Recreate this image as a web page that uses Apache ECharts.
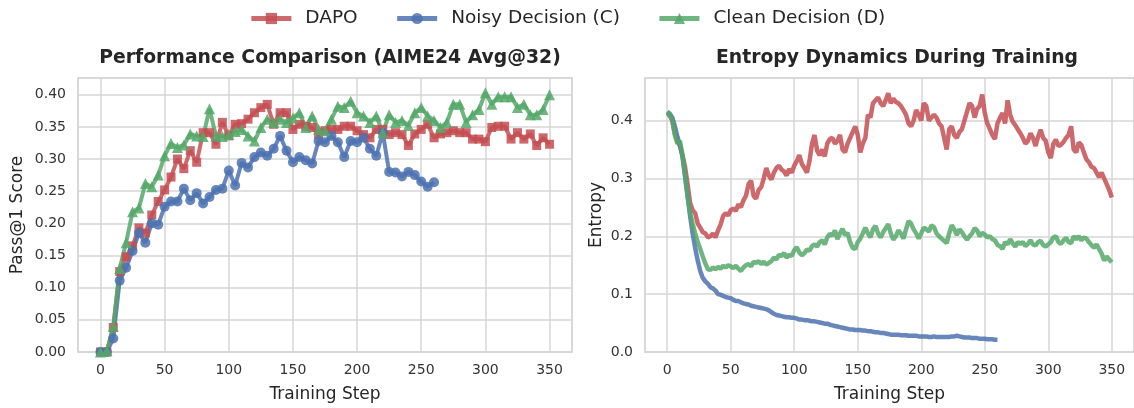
<!DOCTYPE html>
<html lang="en">
<head>
    <meta charset="UTF-8">
    <title>DAPO vs Decision</title>
    <style>
        html, body { margin: 0; padding: 0; background: #fff; }
        #main { width: 1134px; height: 408px; }
    </style>
    <script type="text/javascript" src="https://cdn.jsdelivr.net/npm/echarts@6/dist/echarts.min.js"></script>
</head>
<body>
<div id="main"></div>
</body>
<script>
    // ---- left panel: Avg@32 every 5 steps ----
    const perfSteps = [0,5,10,15,20,25,30,35,40,45,50,55,60,65,70,75,80,85,90,95,100,105,110,115,120,125,130,135,140,145,150,155,160,165,170,175,180,185,190,195,200,205,210,215,220,225,230,235,240,245,250,255,260,265,270,275,280,285,290,295,300,305,310,315,320,325,330,335,340,345,350];

    const perfDapo = [0,0,0.038,0.125,0.148,0.165,0.193,0.185,0.213,0.234,0.252,0.272,0.300,0.285,0.313,0.295,0.341,0.341,0.323,0.357,0.336,0.354,0.355,0.362,0.372,0.380,0.385,0.354,0.372,0.372,0.346,0.354,0.351,0.349,0.338,0.344,0.346,0.346,0.351,0.351,0.344,0.338,0.333,0.346,0.346,0.338,0.341,0.338,0.321,0.339,0.346,0.354,0.333,0.339,0.341,0.344,0.341,0.341,0.331,0.331,0.327,0.349,0.351,0.351,0.331,0.341,0.331,0.339,0.321,0.333,0.323];

    const perfNoisy = [0,0,0.021,0.111,0.131,0.157,0.185,0.170,0.200,0.198,0.226,0.234,0.234,0.254,0.236,0.247,0.231,0.241,0.252,0.254,0.282,0.259,0.294,0.287,0.303,0.310,0.305,0.316,0.336,0.313,0.295,0.303,0.298,0.293,0.328,0.326,0.336,0.326,0.303,0.328,0.326,0.333,0.316,0.305,0.341,0.280,0.279,0.273,0.280,0.275,0.265,0.257,0.264];

    const perfClean = [0,0.002,0.040,0.130,0.170,0.218,0.224,0.262,0.257,0.275,0.305,0.324,0.318,0.322,0.339,0.336,0.335,0.378,0.336,0.335,0.338,0.343,0.346,0.336,0.328,0.349,0.362,0.357,0.362,0.357,0.364,0.372,0.349,0.367,0.346,0.344,0.362,0.382,0.380,0.390,0.372,0.367,0.357,0.367,0.341,0.369,0.357,0.360,0.352,0.372,0.380,0.367,0.360,0.349,0.357,0.385,0.385,0.357,0.369,0.377,0.403,0.385,0.397,0.397,0.397,0.380,0.385,0.369,0.369,0.377,0.400];

    // ---- right panel: entropy every 2 steps ----
    const entSteps = Array.from({length: 176}, (_, i) => i * 2);

    const entDapo = [0.407,0.410,0.400,0.378,0.365,0.356,0.340,0.320,0.290,0.258,0.245,0.240,0.222,0.215,0.207,0.205,0.198,0.200,0.205,0.198,
        0.210,0.220,0.235,0.240,0.236,0.245,0.248,0.244,0.255,0.250,0.262,0.270,0.290,0.296,0.270,0.265,0.280,0.285,0.300,0.318,
        0.305,0.298,0.310,0.318,0.322,0.315,0.312,0.305,0.316,0.310,0.322,0.330,0.340,0.325,0.318,0.310,0.330,0.360,0.375,0.348,
        0.340,0.350,0.338,0.360,0.368,0.370,0.360,0.365,0.375,0.350,0.345,0.360,0.370,0.380,0.390,0.375,0.345,0.360,0.370,0.410,
        0.405,0.430,0.435,0.440,0.430,0.425,0.435,0.447,0.430,0.438,0.432,0.430,0.425,0.418,0.410,0.395,0.390,0.400,0.418,0.410,
        0.400,0.430,0.425,0.400,0.405,0.410,0.405,0.395,0.390,0.370,0.350,0.385,0.390,0.375,0.370,0.380,0.385,0.400,0.415,0.430,
        0.425,0.405,0.420,0.425,0.445,0.413,0.395,0.385,0.375,0.368,0.395,0.405,0.413,0.395,0.435,0.410,0.398,0.392,0.385,0.378,
        0.370,0.360,0.365,0.378,0.370,0.356,0.372,0.384,0.370,0.365,0.345,0.335,0.360,0.367,0.356,0.358,0.363,0.370,0.375,0.390,
        0.350,0.345,0.362,0.358,0.345,0.333,0.328,0.320,0.318,0.310,0.302,0.310,0.300,0.290,0.280,0.267];

    const entNoisy = [0.415,0.412,0.405,0.390,0.372,0.358,0.338,0.305,0.270,0.235,0.205,0.180,0.158,0.140,0.128,0.122,0.118,0.112,0.110,0.106,
        0.100,0.099,0.097,0.095,0.094,0.093,0.090,0.088,0.088,0.086,0.084,0.083,0.082,0.080,0.079,0.078,0.077,0.076,0.075,0.074,
        0.072,0.069,0.066,0.064,0.063,0.062,0.061,0.060,0.060,0.059,0.059,0.058,0.056,0.056,0.055,0.055,0.054,0.053,0.053,0.052,
        0.051,0.050,0.049,0.049,0.047,0.046,0.045,0.044,0.043,0.042,0.041,0.040,0.039,0.039,0.038,0.038,0.038,0.037,0.037,0.036,
        0.036,0.035,0.034,0.034,0.033,0.033,0.032,0.031,0.030,0.030,0.030,0.030,0.029,0.029,0.029,0.028,0.028,0.028,0.028,0.027,
        0.027,0.027,0.027,0.026,0.026,0.027,0.026,0.026,0.026,0.026,0.026,0.026,0.027,0.027,0.028,0.027,0.026,0.025,0.025,0.025,
        0.024,0.024,0.024,0.023,0.023,0.023,0.022,0.022,0.022,0.021,0.021];

    const entClean = [0.415,0.410,0.400,0.375,0.360,0.365,0.340,0.305,0.270,0.240,0.222,0.205,0.190,0.178,0.165,0.153,0.143,0.142,0.146,0.143,
        0.147,0.144,0.149,0.146,0.150,0.148,0.145,0.149,0.144,0.140,0.146,0.150,0.152,0.148,0.156,0.154,0.157,0.152,0.156,0.151,
        0.154,0.157,0.163,0.160,0.168,0.166,0.171,0.163,0.168,0.166,0.176,0.181,0.172,0.167,0.171,0.177,0.175,0.183,0.186,0.182,
        0.190,0.193,0.186,0.198,0.204,0.201,0.210,0.195,0.205,0.213,0.202,0.206,0.190,0.180,0.178,0.190,0.196,0.205,0.215,0.205,
        0.198,0.212,0.218,0.205,0.198,0.207,0.214,0.221,0.205,0.194,0.200,0.210,0.205,0.196,0.212,0.226,0.222,0.212,0.205,0.196,
        0.205,0.215,0.212,0.208,0.219,0.216,0.205,0.200,0.196,0.192,0.188,0.205,0.219,0.212,0.202,0.212,0.207,0.200,0.194,0.200,
        0.205,0.214,0.210,0.200,0.206,0.203,0.198,0.200,0.195,0.193,0.185,0.183,0.178,0.190,0.186,0.195,0.188,0.182,0.190,0.187,
        0.190,0.183,0.187,0.193,0.186,0.184,0.190,0.192,0.185,0.182,0.186,0.190,0.198,0.200,0.190,0.187,0.193,0.197,0.190,0.188,
        0.200,0.195,0.200,0.193,0.198,0.196,0.190,0.185,0.180,0.186,0.178,0.170,0.158,0.165,0.160,0.155];

    const xTicks = [0,50,100,150,200,250,300,350];
    const perfTicks = [0,0.05,0.10,0.15,0.20,0.25,0.30,0.35,0.40];
    const entTicks = [0,0.1,0.2,0.3,0.4];

    const RED = '#c44e52', BLUE = '#4c72b0', GREEN = '#55a868';
    const FONT = 'DejaVu Sans';

    function pairs(xs, ys) {
        return ys.map((v, i) => [xs[i], v]);
    }

    function xAxisFor(idx) {
        return {
            type: 'value', gridIndex: idx, min: -17.5, max: 367.5,
            name: 'Training Step', nameLocation: 'middle', nameGap: 34,
            nameTextStyle: {fontFamily: FONT, fontSize: 17, color: '#262626'},
            axisLine: {show: false},
            axisTick: {show: false, customValues: xTicks},
            axisLabel: {customValues: xTicks, fontFamily: FONT, fontSize: 14, color: '#333', margin: 11},
            splitLine: {show: true, lineStyle: {color: '#d6d6d6', width: 1.5}}
        };
    }

    function yAxisFor(idx, name, max, ticks, digits, gap) {
        return {
            type: 'value', gridIndex: idx, min: 0, max: max,
            name: name, nameLocation: 'middle', nameGap: gap,
            nameTextStyle: {fontFamily: FONT, fontSize: 17, color: '#262626'},
            axisLine: {show: false},
            axisTick: {show: false, customValues: ticks},
            axisLabel: {customValues: ticks, fontFamily: FONT, fontSize: 14, color: '#333', margin: 12,
                formatter: v => v.toFixed(digits)},
            splitLine: {show: true, lineStyle: {color: '#d6d6d6', width: 1.5}}
        };
    }

    function perfSeries(name, color, symbol, size, ys) {
        return {
            name: name, type: 'line', xAxisIndex: 0, yAxisIndex: 0,
            data: pairs(perfSteps, ys),
            symbol: symbol, symbolSize: size, showSymbol: true,
            lineStyle: {color: color, width: 4, opacity: 0.85},
            itemStyle: {color: color, opacity: 0.85, borderWidth: 0},
            emphasis: {disabled: true}
        };
    }

    function entSeries(name, color, ys) {
        return {
            name: name, type: 'line', xAxisIndex: 1, yAxisIndex: 1,
            data: pairs(entSteps, ys),
            showSymbol: false, symbol: 'none',
            lineStyle: {color: color, width: 4.5, opacity: 0.85},
            itemStyle: {color: color},
            emphasis: {disabled: true}
        };
    }

    let chart = echarts.init(document.getElementById('main'));

    let option = {
        animation: false,
        backgroundColor: '#fff',
        textStyle: {fontFamily: FONT},
        title: [
            {text: 'Performance Comparison (AIME24 Avg@32)', left: 325, top: 44, textAlign: 'center',
                textStyle: {fontFamily: FONT, fontSize: 18.8, fontWeight: 'bold', color: '#262626'}},
            {text: 'Entropy Dynamics During Training', left: 892, top: 44, textAlign: 'center',
                textStyle: {fontFamily: FONT, fontSize: 18.8, fontWeight: 'bold', color: '#262626'}}
        ],
        legend: {
            top: 4, left: 'center',
            itemWidth: 40, itemHeight: 14, itemGap: 37,
            lineStyle: {width: 5},
            textStyle: {fontFamily: FONT, fontSize: 18.5, color: '#262626', padding: [0, 0, 0, 9]},
            data: ['DAPO', 'Noisy Decision (C)', 'Clean Decision (D)']
        },
        grid: [
            {left: 78, top: 78, width: 494, height: 278, show: true, borderColor: '#cccccc', borderWidth: 1.5},
            {left: 645, top: 78, width: 494, height: 278, show: true, borderColor: '#cccccc', borderWidth: 1.5}
        ],
        xAxis: [xAxisFor(0), xAxisFor(1)],
        yAxis: [
            yAxisFor(0, 'Pass@1 Score', 0.426, perfTicks, 2, 52),
            yAxisFor(1, 'Entropy', 0.4735, entTicks, 1, 40)
        ],
        series: [
            perfSeries('DAPO', RED, 'rect', 9, perfDapo),
            perfSeries('Noisy Decision (C)', BLUE, 'circle', 10, perfNoisy),
            perfSeries('Clean Decision (D)', GREEN, 'triangle', 11, perfClean),
            entSeries('DAPO', RED, entDapo),
            entSeries('Noisy Decision (C)', BLUE, entNoisy),
            entSeries('Clean Decision (D)', GREEN, entClean)
        ]
    };
    chart.setOption(option);
</script>
</html>
